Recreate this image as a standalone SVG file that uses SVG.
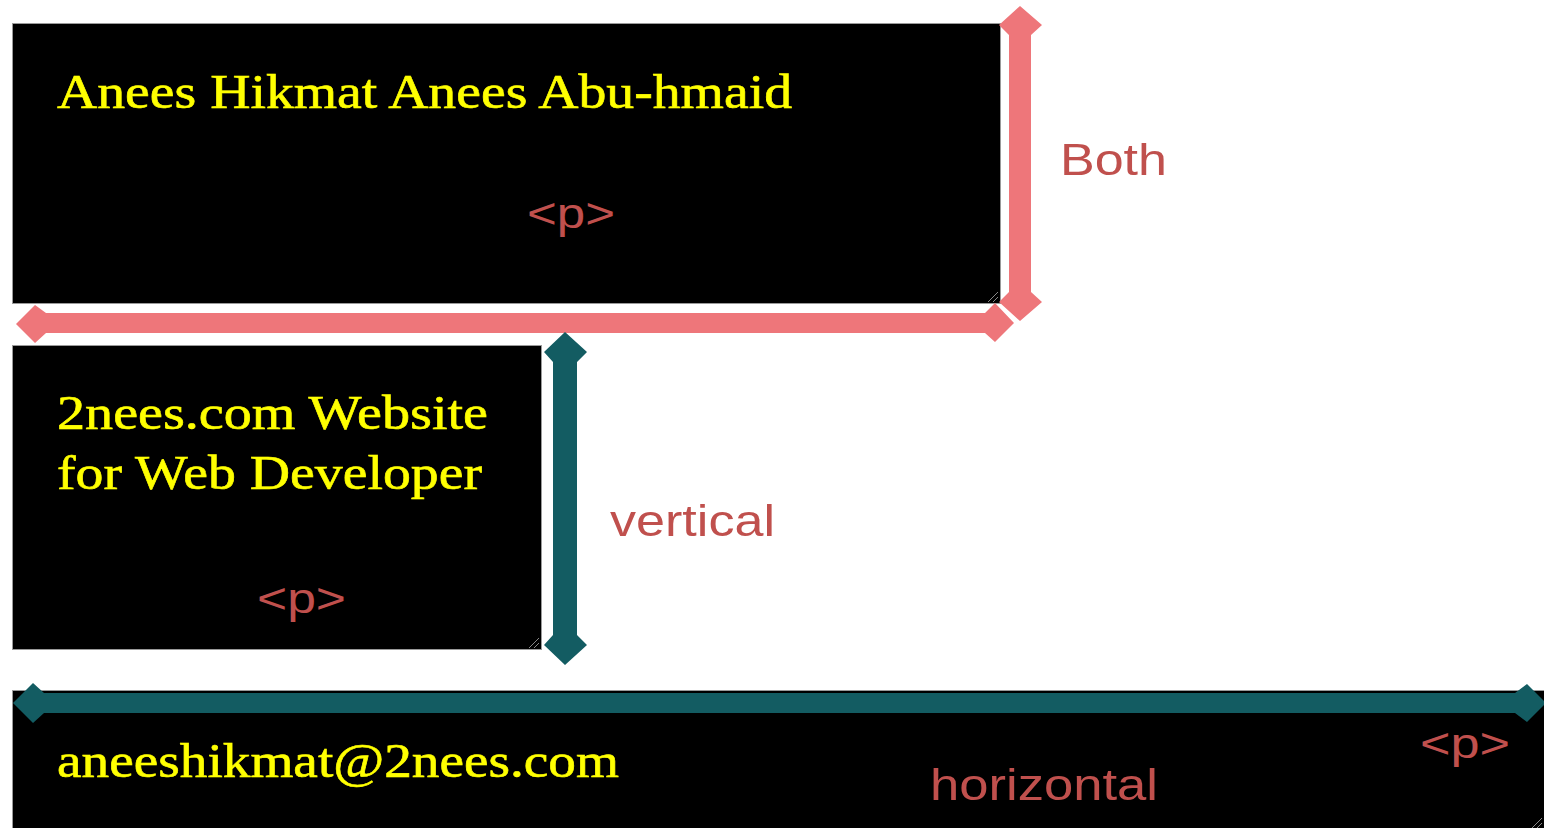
<svg xmlns="http://www.w3.org/2000/svg" width="1544" height="828" viewBox="0 0 1544 828">
<style>
.box{fill:#000;stroke:#9a9a9a;stroke-width:1}
.name{font-family:"Liberation Serif","Times New Roman",serif;fill:#ffff00;stroke:#ffff00;stroke-width:0.6;font-size:48px}
.tag{font-family:"Liberation Sans",Arial,sans-serif;fill:#c0504d;font-size:42px}
.lbl{font-family:"Liberation Sans",Arial,sans-serif;fill:#c0504d;font-size:45px}
.pink{fill:#ee767a}
.teal{fill:#135c62}
.grip{stroke:#888;stroke-width:1}
</style>
<rect width="1544" height="828" fill="#fff"/>
<g id="box1">
<rect class="box" x="12.5" y="23.5" width="988" height="280"/>
<text class="name" x="57" y="108" textLength="735" lengthAdjust="spacingAndGlyphs">Anees Hikmat Anees Abu-hmaid</text>
<text class="tag" x="527" y="228" textLength="88" lengthAdjust="spacingAndGlyphs">&lt;p&gt;</text>
<path class="grip" d="M988 302 L998 292 M993 302 L998 297"/>
</g>
<g id="box2">
<rect class="box" x="12.5" y="345.5" width="529" height="304"/>
<text class="name" x="57" y="429" textLength="431" lengthAdjust="spacingAndGlyphs">2nees.com Website</text>
<text class="name" x="57" y="489" textLength="425" lengthAdjust="spacingAndGlyphs">for Web Developer</text>
<text class="tag" x="257" y="613" textLength="89" lengthAdjust="spacingAndGlyphs">&lt;p&gt;</text>
<path class="grip" d="M529 648 L539 638 M534 648 L539 643"/>
</g>
<g id="box3">
<rect class="box" x="12.5" y="690.5" width="1540" height="150"/>
<text class="name" x="57" y="777" textLength="562" lengthAdjust="spacingAndGlyphs">aneeshikmat@2nees.com</text>
<text class="tag" x="1420" y="758" textLength="90" lengthAdjust="spacingAndGlyphs">&lt;p&gt;</text>
<path class="grip" d="M1532 828 L1542 818 M1537 828 L1542 823"/>
</g>
<g id="labels">
<text class="lbl" x="1060" y="175" textLength="107" lengthAdjust="spacingAndGlyphs">Both</text>
<text class="lbl" x="610" y="536" textLength="165" lengthAdjust="spacingAndGlyphs">vertical</text>
<text class="lbl" x="930" y="800" textLength="228" lengthAdjust="spacingAndGlyphs">horizontal</text>
</g>
<g id="connectors">
<path class="pink" d="M1020 6 L1042 25 L1031 35 L1031 292 L1042 302 L1020 321 L999 302 L1009 292 L1009 35 L999 25 Z"/>
<path class="pink" d="M35 305 L46 313 L985 313 L995 303 L1014 323 L995 342 L985 333 L46 333 L35 343 L16 324 Z"/>
<path class="teal" d="M565 332 L587 352 L577 362 L577 635 L587 645 L565 665 L544 645 L553 635 L553 362 L544 352 Z"/>
<path class="teal" d="M33 683 L44 693 L1515 693 L1527 684 L1546 703 L1527 722 L1515 713 L44 713 L33 723 L13 703 Z"/>
</g>
</svg>
